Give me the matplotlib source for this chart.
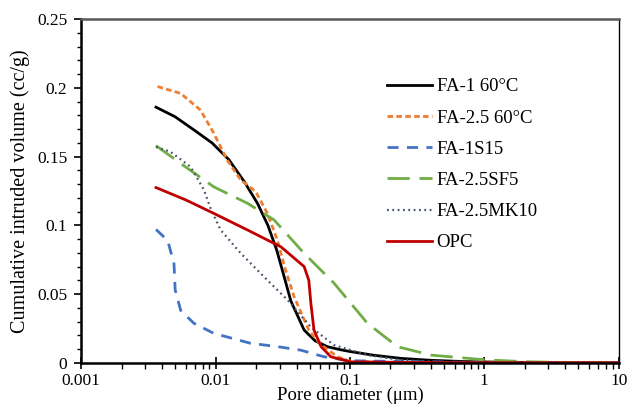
import matplotlib.pyplot as plt
from matplotlib.ticker import LogLocator, MultipleLocator, FixedLocator, FixedFormatter

plt.rcParams['font.family'] = ['Liberation Serif', 'DejaVu Serif']

# pore diameter (um) / cumulative intruded volume (cc/g)
fa1_x = [0.0036, 0.005, 0.007, 0.0094, 0.0125, 0.0163, 0.0205, 0.0245, 0.0285, 0.0325, 0.0363, 0.0456, 0.055, 0.068, 0.085, 0.1, 0.15, 0.24, 0.4, 0.7, 1.0, 2.0, 4.0, 10.0]
fa1_y = [0.186, 0.179, 0.169, 0.160, 0.148, 0.132, 0.116, 0.100, 0.082, 0.062, 0.045, 0.0238, 0.016, 0.0117, 0.0095, 0.0082, 0.0055, 0.0032, 0.0018, 0.0009, 0.0006, 0.0003, 0.0001, 0.0]

fa25_x = [0.0037, 0.0055, 0.0077, 0.0097, 0.0122, 0.0154, 0.0199, 0.0243, 0.0288, 0.0330, 0.0384, 0.0494, 0.061, 0.081, 0.1, 0.2, 1.0, 10.0]
fa25_y = [0.201, 0.196, 0.184, 0.167, 0.1475, 0.133, 0.1245, 0.1087, 0.0893, 0.068, 0.048, 0.0238, 0.0129, 0.0044, 0.0012, 0.0004, 0.0001, 0.0]

fa1s15_x = [0.0036, 0.0044, 0.0049, 0.0050, 0.0055, 0.0069, 0.0097, 0.018, 0.030, 0.043, 0.064, 0.1, 0.3, 1.0, 10.0]
fa1s15_y = [0.097, 0.089, 0.072, 0.053, 0.038, 0.0287, 0.0214, 0.0143, 0.0115, 0.0092, 0.0044, 0.0015, 0.0008, 0.0002, 0.0]

fa25sf5_x = [0.0036, 0.0055, 0.0097, 0.0173, 0.0272, 0.0456, 0.076, 0.135, 0.226, 0.4, 1.0, 2.0, 4.0, 10.0]
fa25sf5_y = [0.158, 0.145, 0.128, 0.116, 0.104, 0.0796, 0.058, 0.0287, 0.0117, 0.0056, 0.0022, 0.0008, 0.0002, 0.0]

fa25mk10_x = [0.0036, 0.0046, 0.0065, 0.0082, 0.0092, 0.0109, 0.0154, 0.0229, 0.0344, 0.0512, 0.076, 0.135, 0.24, 0.5, 1.0, 10.0]
fa25mk10_y = [0.157, 0.1536, 0.1427, 0.1257, 0.112, 0.0966, 0.0796, 0.0626, 0.0456, 0.026, 0.0129, 0.0056, 0.002, 0.0005, 0.0002, 0.0]

opc_x = [0.0036, 0.006, 0.0097, 0.0173, 0.0306, 0.0456, 0.0494, 0.0512, 0.054, 0.061, 0.072, 0.1, 0.3, 1.0, 10.0]
opc_y = [0.1275, 0.1185, 0.1087, 0.0966, 0.0844, 0.070, 0.060, 0.043, 0.0238, 0.0117, 0.0044, 0.0007, 0.0002, 0.0001, 0.0]

fig = plt.figure(figsize=(6.3, 4.09), dpi=100)
ax = fig.add_axes([0.129, 0.113, 0.853, 0.84])

lw = 2.0
ax.plot(fa1_x, fa1_y, color='black', lw=lw, label='FA-1 60°C')
ax.plot(fa25_x, fa25_y, color='#ED7D31', lw=lw, dashes=(2.0, 1.2), label='FA-2.5 60°C')
ax.plot(fa1s15_x, fa1s15_y, color='#4472C4', lw=lw, dashes=(4.0, 3.0), label='FA-1S15')
ax.plot(fa25sf5_x, fa25sf5_y, color='#70AD47', lw=lw, dashes=(8.0, 3.5), label='FA-2.5SF5')
ax.plot(fa25mk10_x, fa25mk10_y, color='#44546A', lw=1.6, dashes=(0.8, 1.6), label='FA-2.5MK10')
ax.plot(opc_x, opc_y, color='#C00000', lw=lw, label='OPC')

ax.set_xscale('log')
ax.set_xlim(0.001, 10)
ax.set_ylim(0, 0.25)

ax.xaxis.set_major_locator(FixedLocator([0.001, 0.01, 0.1, 1, 10]))
ax.xaxis.set_major_formatter(FixedFormatter(['0.001', '0.01', '0.1', '1', '10']))
ax.xaxis.set_minor_locator(LogLocator(base=10, subs=range(2, 10)))
ax.yaxis.set_minor_locator(MultipleLocator(0.01))
ax.set_yticks([0, 0.05, 0.1, 0.15, 0.2, 0.25])
ax.set_yticklabels(['0', '0.05', '0.1', '0.15', '0.2', '0.25'])

ax.tick_params(axis='x', which='major', direction='inout', length=8, width=1.2, labelsize=12.5, pad=3)
ax.tick_params(axis='x', which='minor', direction='out', length=4, width=1.0)
ax.tick_params(axis='y', which='major', direction='out', length=5, width=1.2, labelsize=12.5, pad=5)
ax.tick_params(axis='y', which='minor', direction='out', length=3, width=1.0)

ax.spines['bottom'].set_linewidth(1.8)
ax.spines['left'].set_linewidth(1.8)
ax.spines['top'].set_color('#595959')
ax.spines['top'].set_linewidth(1.8)
ax.spines['right'].set_linewidth(1.0)

ax.set_xlabel('Pore diameter (μm)', fontsize=13.5, labelpad=-1)
ax.set_ylabel('Cumulative intruded volume (cc/g)', fontsize=14.5, labelpad=5)

ax.legend(loc='upper left', bbox_to_anchor=(0.555, 0.85), frameon=False, fontsize=13.5,
          handlelength=2.4, handletextpad=0.25, labelspacing=0.75, borderaxespad=0)

fig.savefig('out.png', dpi=100)
